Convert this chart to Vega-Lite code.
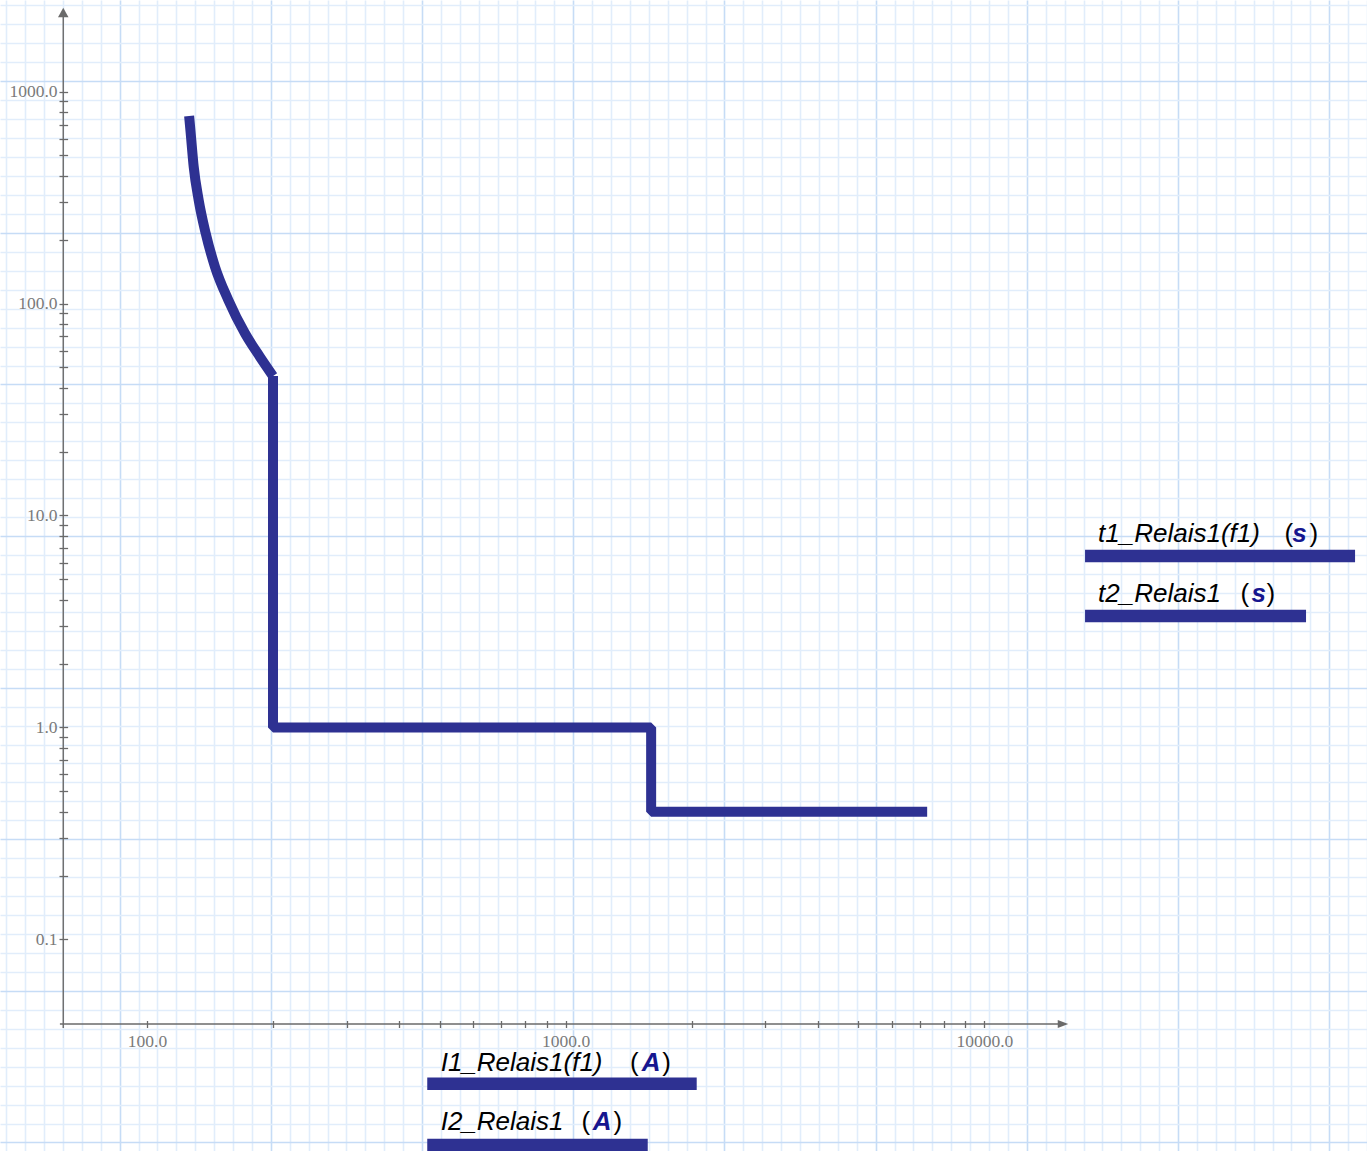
{
  "$schema": "https://vega.github.io/schema/vega-lite/v6.json",
  "width": 1367,
  "height": 1151,
  "autosize": {"type": "none"},
  "padding": 0,
  "background": "#ffffff",
  "config": {"view": {"stroke": null}},
  "datasets": {
    "curve": [
      {"s": "a", "o": 1, "I": 126.1, "t": 768},
      {"s": "a", "o": 2, "I": 127.2, "t": 636},
      {"s": "a", "o": 3, "I": 129.3, "t": 443},
      {"s": "a", "o": 4, "I": 132.9, "t": 308},
      {"s": "a", "o": 5, "I": 138.1, "t": 215},
      {"s": "a", "o": 6, "I": 145.4, "t": 149},
      {"s": "a", "o": 7, "I": 156.4, "t": 104},
      {"s": "a", "o": 8, "I": 171.4, "t": 72.4},
      {"s": "a", "o": 9, "I": 186.2, "t": 56},
      {"s": "a", "o": 10, "I": 200, "t": 45.5},
      {"s": "b", "o": 1, "I": 200, "t": 45.5},
      {"s": "b", "o": 2, "I": 200, "t": 1},
      {"s": "b", "o": 3, "I": 1600, "t": 1},
      {"s": "b", "o": 4, "I": 1600, "t": 0.4},
      {"s": "b", "o": 5, "I": 7300, "t": 0.4}
    ],
    "axes": [
      {"I": 61.96, "I2": 15158, "t": 0.039836, "t2": 0.039836},
      {"I": 63.11, "I2": 63.11, "t": 2276.6, "t2": 0.038141}
    ],
    "arrows": [
      {"d": "up", "I": 63.11, "t": 2364.4},
      {"d": "right", "I": 15409, "t": 0.039836}
    ],
    "bars": [
      {"I": 17393, "I2": 76775, "t": 6.44},
      {"I": 17393, "I2": 58633, "t": 3.356},
      {"I": 467.1, "I2": 2055.6, "t": 0.02083},
      {"I": 467.1, "I2": 1570.3, "t": 0.010697}
    ],
    "labels": [
      {"k": "name", "txt": "t1_Relais1(f1)", "I": 18680, "t": 7.473},
      {"k": "paren", "txt": "(", "I": 52058, "t": 7.473},
      {"k": "unit", "txt": "s", "I": 54343, "t": 7.473},
      {"k": "paren", "txt": ")", "I": 59768, "t": 7.473},
      {"k": "name", "txt": "t2_Relais1", "I": 18680, "t": 3.92},
      {"k": "paren", "txt": "(", "I": 40874, "t": 3.92},
      {"k": "unit", "txt": "s", "I": 43444, "t": 3.92},
      {"k": "paren", "txt": ")", "I": 47179, "t": 3.92},
      {"k": "name", "txt": "I1_Relais1(f1)", "I": 502.9, "t": 0.02398},
      {"k": "paren", "txt": "(", "I": 1425.2, "t": 0.02398},
      {"k": "unit", "txt": "A", "I": 1518.9, "t": 0.02398},
      {"k": "paren", "txt": ")", "I": 1700.0, "t": 0.02398},
      {"k": "name", "txt": "I2_Relais1", "I": 502.9, "t": 0.01259},
      {"k": "paren", "txt": "(", "I": 1090.2, "t": 0.01259},
      {"k": "unit", "txt": "A", "I": 1160.2, "t": 0.01259},
      {"k": "paren", "txt": ")", "I": 1300.6, "t": 0.01259}
    ]
  },
  "layer": [
    {
      "data": {"values": [{"gx": 10, "gy": 10}]},
      "mark": {"type": "point", "opacity": 0},
      "encoding": {
        "x": {
          "field": "gx", "type": "quantitative",
          "scale": {"domain": [1.667, 74], "nice": false, "zero": false},
          "axis": {
            "orient": "top", "title": null, "labels": false, "ticks": false, "domain": false,
            "grid": true, "tickCount": 72, "gridWidth": 1.6,
            "gridColor": {"condition": {"test": "datum.value % 8 === 0", "value": "#c6dcf6"}, "value": "#e1edfb"}
          }
        },
        "y": {
          "field": "gy", "type": "quantitative",
          "scale": {"domain": [3.71, 64.45], "nice": false, "zero": false, "reverse": true},
          "axis": {
            "orient": "right", "title": null, "labels": false, "ticks": false, "domain": false,
            "grid": true, "tickCount": 70, "gridWidth": 1.6,
            "gridColor": {"condition": {"test": "datum.value % 8 === 0", "value": "#c6dcf6"}, "value": "#e1edfb"}
          }
        }
      }
    },
    {
      "data": {"name": "curve"},
      "transform": [{"filter": "datum.s === 'b'"}],
      "mark": {"type": "line", "color": "#2E3192", "strokeWidth": 10, "strokeCap": "butt", "strokeJoin": "bevel"},
      "encoding": {
        "x": {
          "field": "I", "type": "quantitative",
          "scale": {"type": "log", "domain": [44.57, 81987], "nice": false},
          "axis": {
            "orient": "bottom", "offset": -130.5, "title": null, "domain": false, "grid": false,
            "values": [100, 200, 300, 400, 500, 600, 700, 800, 900, 1000, 2000, 3000, 4000, 5000, 6000, 7000, 8000, 9000, 10000],
            "tickSize": 7, "tickWidth": 1.3, "tickColor": "#6a6a6a",
            "labelExpr": "datum.value === 100 || datum.value === 1000 || datum.value === 10000 ? format(datum.value, '.1f') : ''",
            "labelFont": "Liberation Serif", "labelFontSize": 17.5, "labelColor": "#7a7a7a",
            "labelPadding": 4.5, "labelOverlap": false, "labelFlush": false, "labelBound": false
          }
        },
        "y": {
          "field": "t", "type": "quantitative",
          "scale": {"type": "log", "domain": [0.010022, 2708.2], "nice": false},
          "axis": {
            "orient": "left", "offset": -67.6, "title": null, "domain": false, "grid": false,
            "values": [0.1, 0.2, 0.3, 0.4, 0.5, 0.6, 0.7, 0.8, 0.9, 1, 2, 3, 4, 5, 6, 7, 8, 9, 10, 20, 30, 40, 50, 60, 70, 80, 90, 100, 200, 300, 400, 500, 600, 700, 800, 900, 1000],
            "tickSize": 8.6, "tickWidth": 1.3, "tickColor": "#6a6a6a",
            "labelExpr": "datum.value === 0.1 || datum.value === 1 || datum.value === 10 || datum.value === 100 || datum.value === 1000 ? format(datum.value, '.1f') : ''",
            "labelFont": "Liberation Serif", "labelFontSize": 17.5, "labelColor": "#7a7a7a",
            "labelPadding": 2, "labelOverlap": false, "labelFlush": false, "labelBound": false
          }
        },
        "order": {"field": "o", "type": "quantitative"}
      }
    },
    {
      "data": {"name": "curve"},
      "transform": [{"filter": "datum.s === 'a'"}],
      "mark": {"type": "line", "color": "#2E3192", "strokeWidth": 10, "strokeCap": "butt", "strokeJoin": "round", "interpolate": "monotone"},
      "encoding": {
        "x": {"field": "I", "type": "quantitative", "scale": {"type": "log", "domain": [44.57, 81987], "nice": false}, "axis": null},
        "y": {"field": "t", "type": "quantitative", "scale": {"type": "log", "domain": [0.010022, 2708.2], "nice": false}, "axis": null},
        "order": {"field": "o", "type": "quantitative"}
      }
    },
    {
      "data": {"name": "axes"},
      "mark": {"type": "rule", "color": "#6a6a6a", "strokeWidth": 1.4},
      "encoding": {
        "x": {"field": "I", "type": "quantitative", "scale": {"type": "log", "domain": [44.57, 81987], "nice": false}, "axis": null},
        "x2": {"field": "I2"},
        "y": {"field": "t", "type": "quantitative", "scale": {"type": "log", "domain": [0.010022, 2708.2], "nice": false}, "axis": null},
        "y2": {"field": "t2"}
      }
    },
    {
      "data": {"name": "arrows"},
      "mark": {"type": "point", "filled": true, "color": "#6a6a6a", "opacity": 1, "size": 110, "strokeWidth": 0},
      "encoding": {
        "x": {"field": "I", "type": "quantitative", "scale": {"type": "log", "domain": [44.57, 81987], "nice": false}, "axis": null},
        "y": {"field": "t", "type": "quantitative", "scale": {"type": "log", "domain": [0.010022, 2708.2], "nice": false}, "axis": null},
        "shape": {"field": "d", "type": "nominal", "scale": {"domain": ["up", "right"], "range": ["M0,-0.9L1,0.9L-1,0.9Z", "M1,0L-1,-0.77L-1,0.77Z"]}, "legend": null}
      }
    },
    {
      "data": {"name": "bars"},
      "mark": {"type": "rule", "color": "#2E3192", "strokeWidth": 12.5, "strokeCap": "butt"},
      "encoding": {
        "x": {"field": "I", "type": "quantitative", "scale": {"type": "log", "domain": [44.57, 81987], "nice": false}, "axis": null},
        "x2": {"field": "I2"},
        "y": {"field": "t", "type": "quantitative", "scale": {"type": "log", "domain": [0.010022, 2708.2], "nice": false}, "axis": null}
      }
    },
    {
      "data": {"name": "labels"},
      "transform": [{"filter": "datum.k === 'name'"}],
      "mark": {"type": "text", "align": "left", "baseline": "alphabetic", "font": "Liberation Sans", "fontStyle": "italic", "fontSize": 26, "color": "#000000"},
      "encoding": {
        "x": {"field": "I", "type": "quantitative", "scale": {"type": "log", "domain": [44.57, 81987], "nice": false}, "axis": null},
        "y": {"field": "t", "type": "quantitative", "scale": {"type": "log", "domain": [0.010022, 2708.2], "nice": false}, "axis": null},
        "text": {"field": "txt"}
      }
    },
    {
      "data": {"name": "labels"},
      "transform": [{"filter": "datum.k === 'paren'"}],
      "mark": {"type": "text", "align": "left", "baseline": "alphabetic", "font": "Liberation Sans", "fontSize": 26, "color": "#000000"},
      "encoding": {
        "x": {"field": "I", "type": "quantitative", "scale": {"type": "log", "domain": [44.57, 81987], "nice": false}, "axis": null},
        "y": {"field": "t", "type": "quantitative", "scale": {"type": "log", "domain": [0.010022, 2708.2], "nice": false}, "axis": null},
        "text": {"field": "txt"}
      }
    },
    {
      "data": {"name": "labels"},
      "transform": [{"filter": "datum.k === 'unit'"}],
      "mark": {"type": "text", "align": "left", "baseline": "alphabetic", "font": "Liberation Sans", "fontStyle": "italic", "fontWeight": "bold", "fontSize": 26, "color": "#16168f"},
      "encoding": {
        "x": {"field": "I", "type": "quantitative", "scale": {"type": "log", "domain": [44.57, 81987], "nice": false}, "axis": null},
        "y": {"field": "t", "type": "quantitative", "scale": {"type": "log", "domain": [0.010022, 2708.2], "nice": false}, "axis": null},
        "text": {"field": "txt"}
      }
    }
  ],
  "resolve": {"scale": {"x": "independent", "y": "independent"}}
}
